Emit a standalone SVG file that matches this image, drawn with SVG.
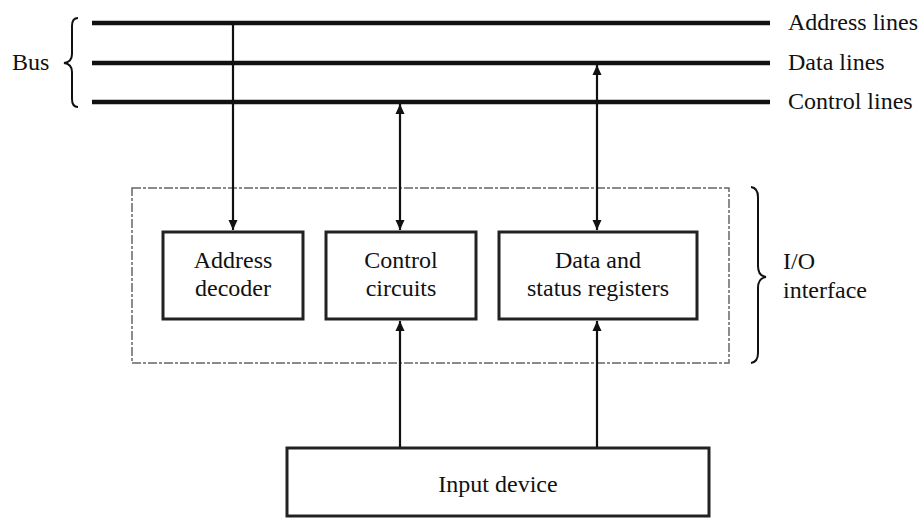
<svg xmlns="http://www.w3.org/2000/svg" width="919" height="518" viewBox="0 0 919 518">
<defs>
<marker id="ah" viewBox="0 0 10 16" refX="10" refY="8" markerWidth="10" markerHeight="16" markerUnits="userSpaceOnUse" orient="auto-start-reverse">
<path d="M0,3.5 L10,8 L0,12.5 Z" fill="#111"/>
</marker>
<style>
text{font-size:24px;fill:#111}
.c{text-anchor:middle}
.bus{stroke:#111;stroke-width:4.5;fill:none}
.box{fill:#fff;stroke:#222;stroke-width:3}
.outer{fill:none;stroke:#666;stroke-width:1.5;stroke-dasharray:9 2 3 2}
.con{stroke:#111;stroke-width:2.2;fill:none}
.brace{stroke:#111;stroke-width:2;fill:none}
</style>
</defs>
<rect width="919" height="518" fill="#fff"/>
<g id="bus" font-family="Liberation Serif">
<line class="bus" x1="92" y1="23" x2="770" y2="23"/>
<line class="bus" x1="92" y1="63" x2="770" y2="63"/>
<line class="bus" x1="92" y1="102" x2="770" y2="102"/>
<text x="788" y="30">Address lines</text>
<text x="788" y="70">Data lines</text>
<text x="788" y="109">Control lines</text>
<path class="brace" d="M78,18 Q72,18 72,26 L72,54 Q72,62 64,63 Q72,64 72,72 L72,99 Q72,107 78,107"/>
<text x="12" y="70">Bus</text>
</g>
<g id="io-interface" font-family="Liberation Serif">
<rect class="outer" x="132" y="188" width="597" height="175"/>
<path class="brace" d="M751,187 Q758,188 758,197 L758,266 Q758,276 766,277 Q758,278 758,288 L758,353 Q758,362 751,363"/>
<text x="783" y="269">I/O</text>
<text x="783" y="298">interface</text>
</g>
<g id="address-decoder" font-family="Liberation Serif">
<rect class="box" x="163" y="232" width="140" height="87"/>
<text class="c" x="233" y="268">Address</text>
<text class="c" x="233" y="296">decoder</text>
</g>
<g id="control-circuits" font-family="Liberation Serif">
<rect class="box" x="326" y="232" width="150" height="87"/>
<text class="c" x="401" y="268">Control</text>
<text class="c" x="401" y="296">circuits</text>
</g>
<g id="data-status-registers" font-family="Liberation Serif">
<rect class="box" x="499" y="232" width="198" height="87"/>
<text class="c" x="598" y="268">Data and</text>
<text class="c" x="598" y="296">status registers</text>
</g>
<g id="input-device" font-family="Liberation Serif">
<rect class="box" x="287" y="448" width="422" height="68"/>
<text class="c" x="498" y="492">Input device</text>
</g>
<g id="connectors">
<line class="con" x1="233" y1="23" x2="233" y2="230" marker-end="url(#ah)"/>
<line class="con" x1="400" y1="104" x2="400" y2="230" marker-start="url(#ah)" marker-end="url(#ah)"/>
<line class="con" x1="597" y1="65" x2="597" y2="230" marker-start="url(#ah)" marker-end="url(#ah)"/>
<line class="con" x1="400" y1="447" x2="400" y2="321" marker-end="url(#ah)"/>
<line class="con" x1="597" y1="447" x2="597" y2="321" marker-end="url(#ah)"/>
</g>
</svg>
